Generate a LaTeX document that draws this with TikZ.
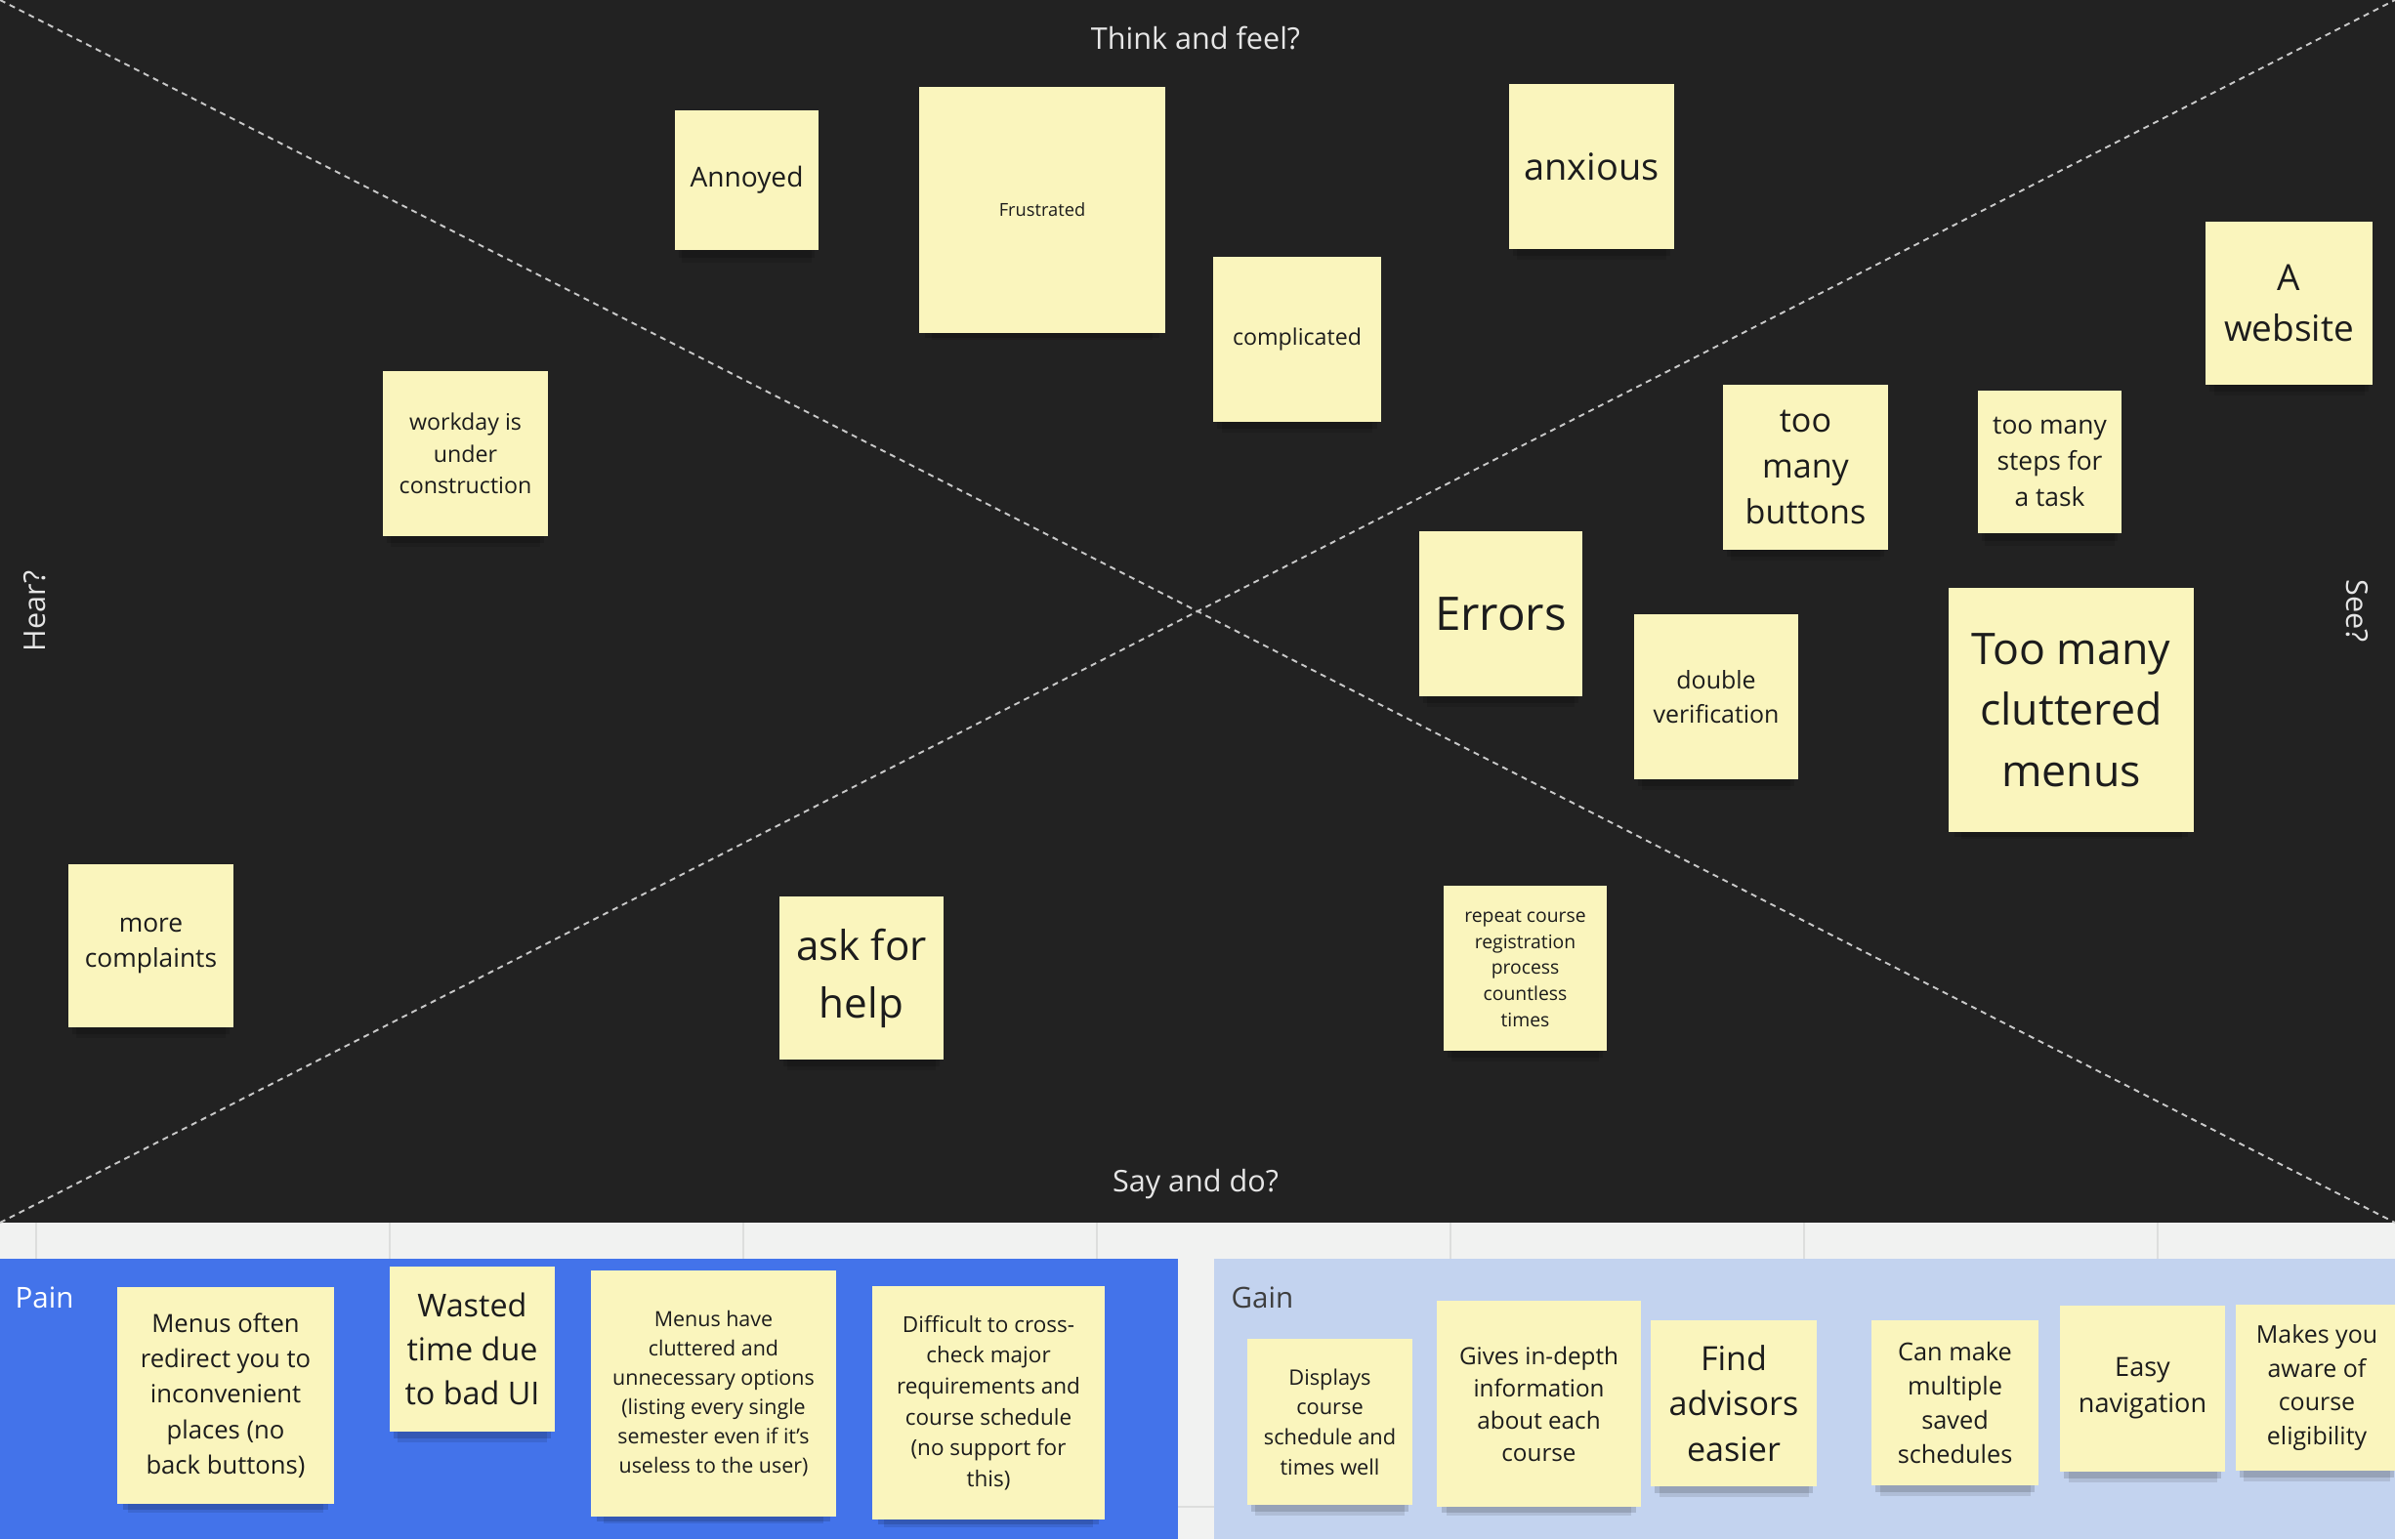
\documentclass[tikz,border=0pt]{standalone}
\usepackage{fontspec}
\setmainfont{Open Sans}
\usepackage{xcolor}
\usepackage{tikz}
\usetikzlibrary{shadows}

\definecolor{board}{HTML}{222222}
\definecolor{canvas}{HTML}{F1F2F1}
\definecolor{gridline}{HTML}{DDDEDD}
\definecolor{painblue}{HTML}{4373EA}
\definecolor{gainblue}{HTML}{C3D3EF}
\definecolor{stickyfill}{HTML}{FAF5BD}
\definecolor{ink}{HTML}{1C1C1C}
\definecolor{axistext}{HTML}{E6E6E6}
\definecolor{crossline}{HTML}{C8C8C8}

\newcommand\notesize[2]{\fontsize{#1}{#2}\selectfont}

\tikzset{
    sticky/.style={fill=stickyfill, text=ink, align=center, inner sep=0pt,
        drop shadow={shadow xshift=0cm, shadow yshift=-0.22cm, shadow scale=0.9, opacity=0.10, fill=black},
        drop shadow={shadow xshift=0cm, shadow yshift=-0.12cm, shadow scale=0.95, opacity=0.14, fill=black}},
    quadrant/.style={text=axistext, font=\notesize{8.7}{12}},
    crossing/.style={crossline, line width=0.55pt, dash pattern=on 0.6mm off 0.5mm},
    lanetitle/.style={anchor=west, inner sep=0pt, font=\notesize{8.4}{11}},
}

\begin{document}
\begin{tikzpicture}
        \clip (0,0) rectangle (24.52,-15.76);
        \fill[canvas] (0,0) rectangle (24.52,-15.76);
        \foreach \gx in {0.37,3.99,7.61,11.23,14.85,18.47,22.09}
            \draw[gridline, line width=0.4pt] (\gx,-12.52) -- (\gx,-15.76);
        \draw[gridline, line width=0.4pt] (0,-15.43) -- (24.52,-15.43);

        \fill[board] (0,0) rectangle (24.52,-12.52);
        \fill[painblue] (0,-12.89) rectangle (12.06,-15.76);
        \fill[gainblue] (12.43,-12.89) rectangle (24.52,-15.76);

        \coordinate (nw) at (0,0);
        \coordinate (ne) at (24.52,0);
        \coordinate (sw) at (0,-12.52);
        \coordinate (se) at (24.52,-12.52);
        \draw[crossing] (nw) -- (se);
        \draw[crossing] (sw) -- (ne);

        \node[quadrant] (think) at (12.24,-0.39) {Think and feel?};
        \node[quadrant] (say) at (12.24,-12.13) {Say and do?};
        \node[quadrant, rotate=90] (hear) at (0.36,-6.26) {Hear?};
        \node[quadrant, rotate=-90] (see) at (24.13,-6.26) {See?};

        \node[sticky, minimum width=1.47cm, minimum height=1.43cm, font=\notesize{8}{11}] (annoyed) at (7.645,-1.845) {Annoyed};
        \node[sticky, minimum width=2.52cm, minimum height=2.52cm, font=\notesize{5.2}{7}] (frustrated) at (10.67,-2.15) {Frustrated};
        \node[sticky, minimum width=1.69cm, minimum height=1.69cm, font=\notesize{10.8}{15}] (anxious) at (16.295,-1.705) {anxious};
        \node[sticky, minimum width=1.72cm, minimum height=1.69cm, font=\notesize{6.6}{9}] (complicated) at (13.28,-3.475) {complicated};
        \node[sticky, minimum width=1.71cm, minimum height=1.67cm, font=\notesize{10.5}{14.6}] (website) at (23.435,-3.105) {A\\website};
        \node[sticky, minimum width=1.69cm, minimum height=1.69cm, font=\notesize{6.6}{9.2}] (workday) at (4.765,-4.645) {workday is\\under\\construction};
        \node[sticky, minimum width=1.69cm, minimum height=1.69cm, font=\notesize{9.7}{13.4}] (buttons) at (18.485,-4.785) {too\\many\\buttons};
        \node[sticky, minimum width=1.47cm, minimum height=1.46cm, font=\notesize{7.5}{10.5}] (steps) at (20.985,-4.73) {too many\\steps for\\a task};
        \node[sticky, minimum width=1.67cm, minimum height=1.69cm, font=\notesize{13.5}{19}] (errors) at (15.365,-6.285) {Errors};
        \node[sticky, minimum width=1.68cm, minimum height=1.69cm, font=\notesize{7.1}{9.9}] (double) at (17.57,-7.135) {double\\verification};
        \node[sticky, minimum width=2.51cm, minimum height=2.50cm, font=\notesize{12.7}{17.8}] (cluttered) at (21.205,-7.27) {Too many\\cluttered\\menus};
        \node[sticky, minimum width=1.69cm, minimum height=1.67cm, font=\notesize{7.5}{10.4}] (complaints) at (1.545,-9.685) {more\\complaints};
        \node[sticky, minimum width=1.68cm, minimum height=1.67cm, font=\notesize{12}{16.8}] (help) at (8.82,-10.015) {ask for\\help};
        \node[sticky, minimum width=1.67cm, minimum height=1.69cm, font=\notesize{5.5}{7.6}] (repeat) at (15.615,-9.915) {repeat course\\registration\\process\\countless\\times};

        \node[lanetitle, text=white] (pain) at (0.15,-13.29) {Pain};
        \node[lanetitle, text=ink!85] (gain) at (12.60,-13.29) {Gain};

        \node[sticky, minimum width=2.22cm, minimum height=2.22cm, font=\notesize{7.3}{10.3}] (redirect) at (2.31,-14.29) {Menus often\\redirect you to\\inconvenient\\places (no\\back buttons)};
        \node[sticky, minimum width=1.69cm, minimum height=1.69cm, font=\notesize{9.2}{12.9}] (wasted) at (4.835,-13.815) {Wasted\\time due\\to bad UI};
        \node[sticky, minimum width=2.51cm, minimum height=2.52cm, font=\notesize{6.1}{8.5}] (options) at (7.305,-14.27) {Menus have\\cluttered and\\unnecessary options\\(listing every single\\semester even if it's\\useless to the user)};
        \node[sticky, minimum width=2.38cm, minimum height=2.39cm, font=\notesize{6.4}{9}] (crosscheck) at (10.12,-14.365) {Difficult to cross-\\check major\\requirements and\\course schedule\\(no support for\\this)};

        \node[sticky, minimum width=1.69cm, minimum height=1.70cm, font=\notesize{6.2}{8.7}] (displays) at (13.615,-14.56) {Displays\\course\\schedule and\\times well};
        \node[sticky, minimum width=2.09cm, minimum height=2.11cm, font=\notesize{6.9}{9.4}] (indepth) at (15.755,-14.375) {Gives in-depth\\information\\about each\\course};
        \node[sticky, minimum width=1.70cm, minimum height=1.70cm, font=\notesize{9.7}{13.2}] (advisors) at (17.75,-14.37) {Find\\advisors\\easier};
        \node[sticky, minimum width=1.71cm, minimum height=1.69cm, font=\notesize{7.2}{10}] (saved) at (20.015,-14.365) {Can make\\multiple\\saved\\schedules};
        \node[sticky, minimum width=1.69cm, minimum height=1.70cm, font=\notesize{7.7}{10.5}] (navigation) at (21.935,-14.22) {Easy\\navigation};
        \node[sticky, minimum width=1.66cm, minimum height=1.70cm, font=\notesize{7.1}{9.9}] (eligibility) at (23.72,-14.21) {Makes you\\aware of\\course\\eligibility};
\end{tikzpicture}
\end{document}
